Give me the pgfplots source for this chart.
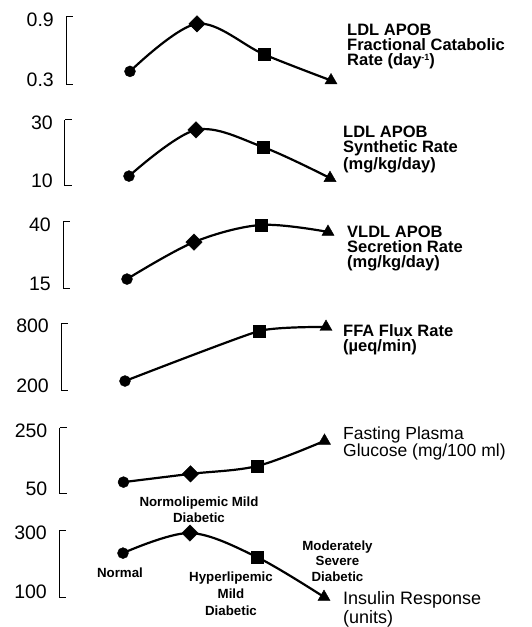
\documentclass[border=0pt]{standalone}
\usepackage{pgfplots}
\pgfplotsset{compat=1.18}
\usepackage{fontspec}
\setmainfont{Liberation Sans}
\newcommand\rl{\fontsize{16.5}{15}\bfseries\selectfont}
\newcommand\rr{\fontsize{17.5}{15}\selectfont}
\pgfplotsset{
  panel/.style={
    scale only axis, width=265pt, anchor=south west,
    xmin=-0.955, xmax=3,
    axis x line=none, axis y line=left,
    y axis line style={-, line width=1pt},
    every tick/.style={black, line width=1pt},
    tick align=inside, major tick length=7pt,
    yticklabel style={anchor=base east, xshift=-12pt, font=\fontsize{19.5}{20}\selectfont, inner sep=0pt},
    clip=false,
    /pgf/number format/assume math mode=true,
  },
  curve/.style={black, line width=2.2pt, smooth, tension=0.55, no marks},
  mcirc/.style={only marks, mark=*, mark size=5.5pt, black},
  mdiam/.style={only marks, mark=square*, mark size=5.8pt, mark options={rotate=45}, black},
  msq/.style={only marks, mark=square*, mark size=6pt, black},
  mtri/.style={only marks, mark=triangle*, mark size=7pt, black},
}
\begin{document}
\begin{tikzpicture}[x=1pt,y=1pt]
\useasboundingbox (0,0) rectangle (531,627);
% Panel 1
\begin{axis}[panel, at={(66pt,542pt)}, height=68pt, ymin=0.3, ymax=0.9,
  ytick={0.3,0.9}, yticklabels={\raisebox{-2pt}{0.3},\raisebox{-9.5pt}{0.9}}]
\addplot[curve] coordinates {(0,0.42) (1,0.84) (2,0.57) (3,0.34)};
\addplot[mcirc] coordinates {(0,0.42)};
\addplot[mdiam] coordinates {(1,0.84)};
\addplot[msq] coordinates {(2,0.57)};
\addplot[mtri] coordinates {(3,0.34)};
\end{axis}
% Panel 2
\begin{axis}[panel, at={(65pt,441pt)}, height=66pt, ymin=10, ymax=30,
  ytick={10,30}, yticklabels={\raisebox{-2pt}{10},\raisebox{-9.5pt}{30}}]
\addplot[curve] coordinates {(0,13.0) (1,27.0) (2,21.8) (3,12.4)};
\addplot[mcirc] coordinates {(0,13.0)};
\addplot[mdiam] coordinates {(1,27.0)};
\addplot[msq] coordinates {(2,21.8)};
\addplot[mtri] coordinates {(3,12.4)};
\end{axis}
% Panel 3
\begin{axis}[panel, at={(63pt,338pt)}, height=67pt, ymin=15, ymax=40,
  ytick={15,40}, yticklabels={\raisebox{-2pt}{15},\raisebox{-9.5pt}{40}}]
\addplot[curve] coordinates {(0,18.7) (1,32.5) (2,38.9) (3,36.3)};
\addplot[mcirc] coordinates {(0,18.7)};
\addplot[mdiam] coordinates {(1,32.5)};
\addplot[msq] coordinates {(2,38.9)};
\addplot[mtri] coordinates {(3,36.3)};
\end{axis}
% Panel 4
\begin{axis}[panel, at={(61pt,236pt)}, height=68pt, ymin=200, ymax=800,
  ytick={200,800}, yticklabels={\raisebox{-2pt}{200},\raisebox{-9.5pt}{800}}]
\addplot[curve, tension=0.3] coordinates {(0,288) (2,729) (3,765)};
\addplot[mcirc] coordinates {(0,288)};
\addplot[msq] coordinates {(2,729)};
\addplot[mtri] coordinates {(3,765)};
\end{axis}
% Panel 5
\begin{axis}[panel, at={(59.5pt,133pt)}, height=66pt, ymin=50, ymax=250,
  ytick={50,250}, yticklabels={\raisebox{-2pt}{50},\raisebox{-9.5pt}{250}}]
\addplot[curve] coordinates {(0,86) (1,111) (2,135) (3,211)};
\addplot[mcirc] coordinates {(0,86)};
\addplot[mdiam] coordinates {(1,111)};
\addplot[msq] coordinates {(2,135)};
\addplot[mtri] coordinates {(3,211)};
\end{axis}
% Panel 6
\begin{axis}[panel, at={(59pt,30pt)}, height=67pt, ymin=100, ymax=300,
  ytick={100,300}, yticklabels={\raisebox{-2pt}{100},\raisebox{-9.5pt}{300}}]
\addplot[curve] coordinates {(0,231) (1,291) (2,219) (3,100)};
\addplot[mcirc] coordinates {(0,231)};
\addplot[mdiam] coordinates {(1,291)};
\addplot[msq] coordinates {(2,219)};
\addplot[mtri] coordinates {(3,100)};
\end{axis}
% Right-hand labels
\begin{scope}[every node/.style={anchor=north west, inner sep=0pt, align=left}]
\node[font=\rl] at (347,603) {LDL APOB\\Fractional Catabolic\\Rate (day\raisebox{0.3em}{\fontsize{9}{9}\selectfont -1})};
\node[font=\rl] at (343,501) {LDL APOB\\Synthetic Rate\\(mg/kg/day)};
\node[font=\rl] at (347,401) {VLDL APOB\\Secretion Rate\\(mg/kg/day)};
\node[font=\rl] at (343,303) {FFA Flux Rate\\(µeq/min)};
\node[font=\rr] at (343,200.8) {Fasting Plasma\\Glucose (mg/100 ml)};
\node[font=\fontsize{18}{19}\selectfont] at (343,36.1) {Insulin Response\\(units)};
\end{scope}
% Category labels
\begin{scope}[every node/.style={anchor=north, inner sep=0pt, align=center}]
\node[anchor=base, font=\fontsize{13.3}{16}\bfseries\selectfont] at (120,49) {Normal};
\node[font=\fontsize{13.3}{16}\bfseries\selectfont] at (199,130.6) {Normolipemic Mild\\Diabetic};
\node[font=\fontsize{13.3}{17}\bfseries\selectfont] at (231,55.6) {Hyperlipemic\\Mild\\Diabetic};
\node[font=\fontsize{13.3}{15.5}\bfseries\selectfont] at (337.5,86.6) {Moderately\\Severe\\Diabetic};
\end{scope}
\end{tikzpicture}
\end{document}
